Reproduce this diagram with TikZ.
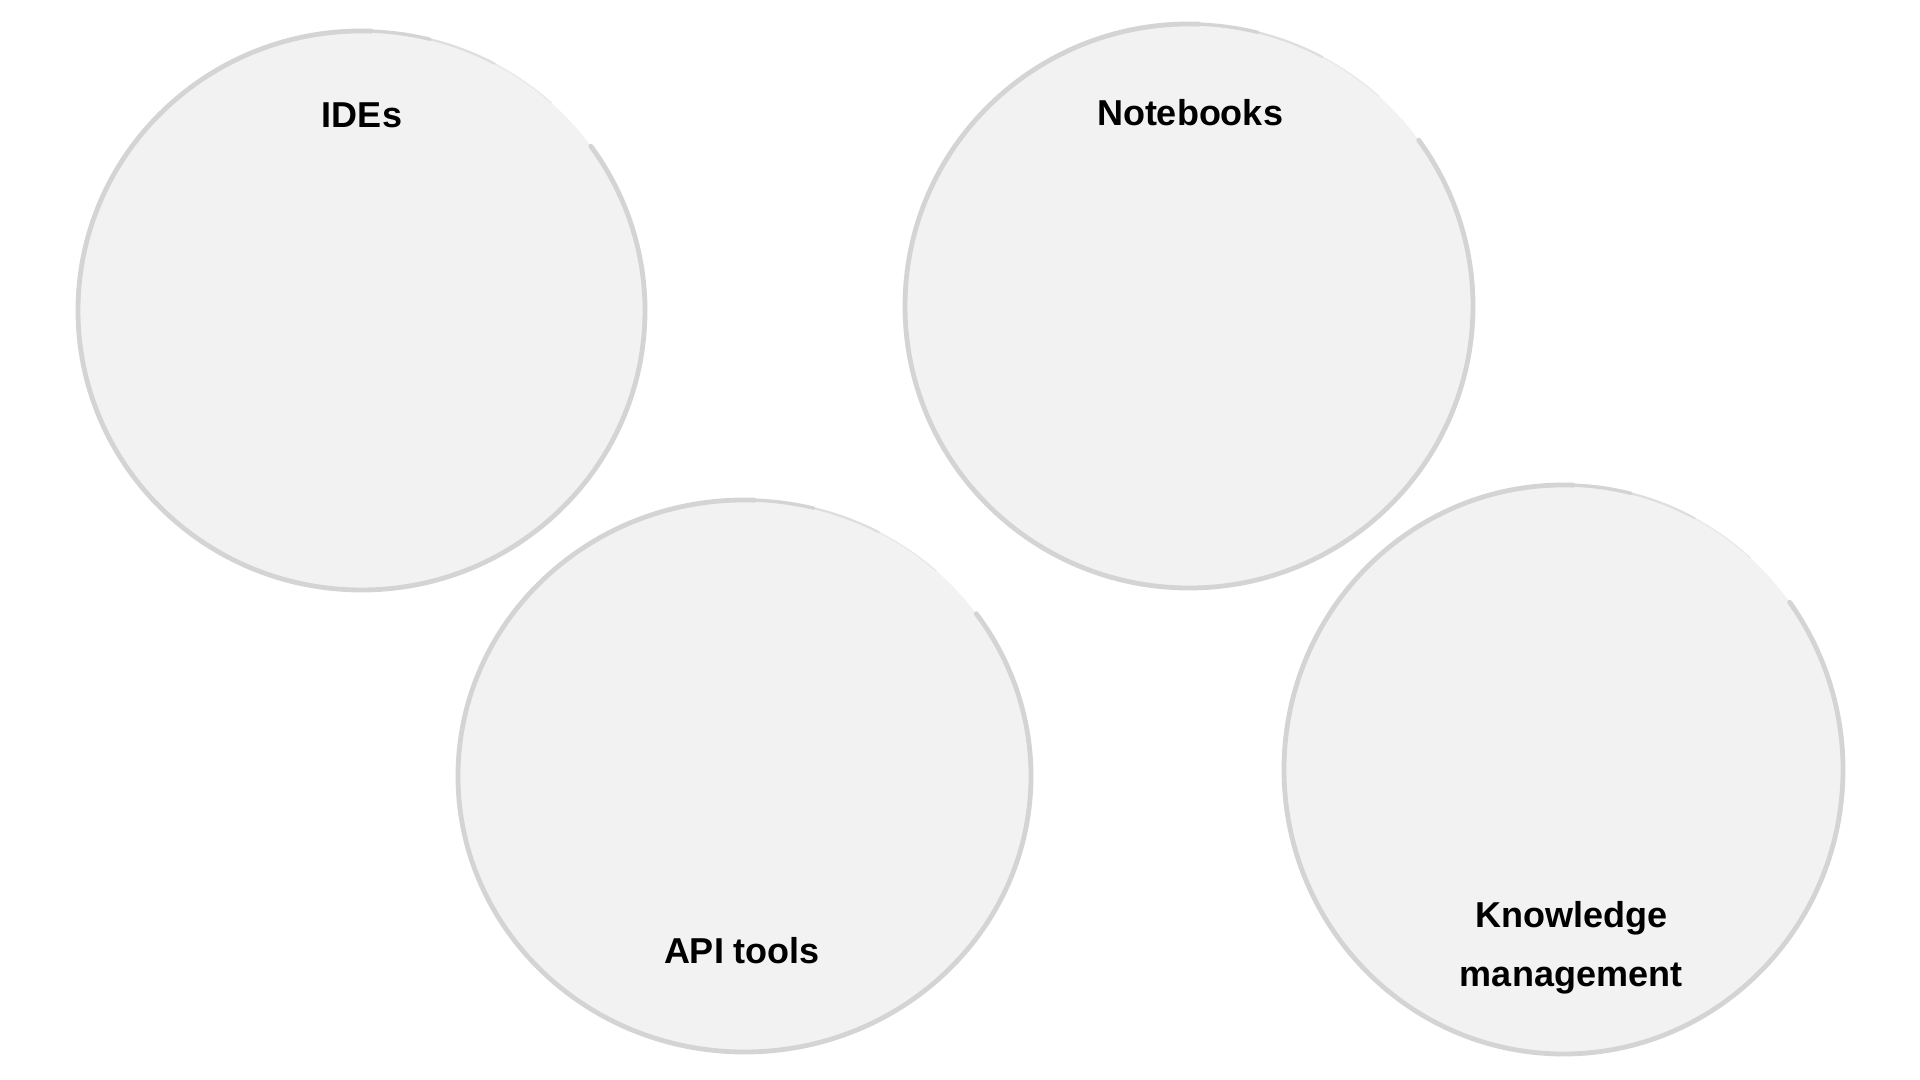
\documentclass[tikz,border=0pt]{standalone}
\usepackage{fontspec}
\setmainfont{Liberation Sans}
\definecolor{bubblefill}{HTML}{F2F2F2}
\definecolor{bubbleline}{HTML}{D4D4D4}
\definecolor{bubblefade}{HTML}{DEDEDE}
\definecolor{bubblefaint}{HTML}{E8E8E8}
\begin{document}
\begin{tikzpicture}[x=0.5pt,y=0.5pt,
  bubble/.style={fill=bubblefill,draw=none},
  rim/.style={draw=bubbleline,line width=2.4pt,line cap=round},
  rimmid/.style={draw=bubbleline,line width=1.7pt,line cap=round},
  rimfade/.style={draw=bubblefade,line width=1.1pt,line cap=round},
  rimfaint/.style={draw=bubblefaint,line width=0.6pt,line cap=round},
  label/.style={font=\fontsize{18pt}{29.5pt}\selectfont\bfseries,text=black,align=center,inner sep=0pt},
  pics/rimset/.style args={#1/#2}{code={
    \draw[rimfaint] (48:#1 and #2) arc [start angle=48,end angle=62,x radius=#1,y radius=#2];
    \draw[rimfade] (62:#1 and #2) arc [start angle=62,end angle=76,x radius=#1,y radius=#2];
    \draw[rimmid] (76:#1 and #2) arc [start angle=76,end angle=88,x radius=#1,y radius=#2];
    \draw[rim] (88:#1 and #2) arc [start angle=88,end angle=396,x radius=#1,y radius=#2];
  }}]
\fill[white] (0,0) rectangle (1920,1080);
\useasboundingbox (0,0) rectangle (1920,1080);
% IDEs
\coordinate (c1) at (361.5,769.5);
\fill[bubble] (c1) ellipse [x radius=283.5,y radius=279.5];
\pic at (c1) {rimset={283.5/279.5}};
\node[label] (ides) at (362,965) {IDEs};
% Notebooks
\coordinate (c2) at (1189,774);
\fill[bubble] (c2) ellipse [x radius=284,y radius=282];
\pic at (c2) {rimset={284/282}};
\node[label] (notebooks) at (1190,967) {Notebooks};
% API tools
\coordinate (c3) at (744.5,304);
\fill[bubble] (c3) ellipse [x radius=286.5,y radius=276];
\pic at (c3) {rimset={286.5/276}};
\node[label] (api) at (742,129) {API tools};
% Knowledge management
\coordinate (c4) at (1563.5,310.5);
\fill[bubble] (c4) ellipse [x radius=279.5,y radius=284.5];
\pic at (c4) {rimset={279.5/284.5}};
\node[label] (km) at (1571,132) {Knowledge\\management};
\end{tikzpicture}
\end{document}
